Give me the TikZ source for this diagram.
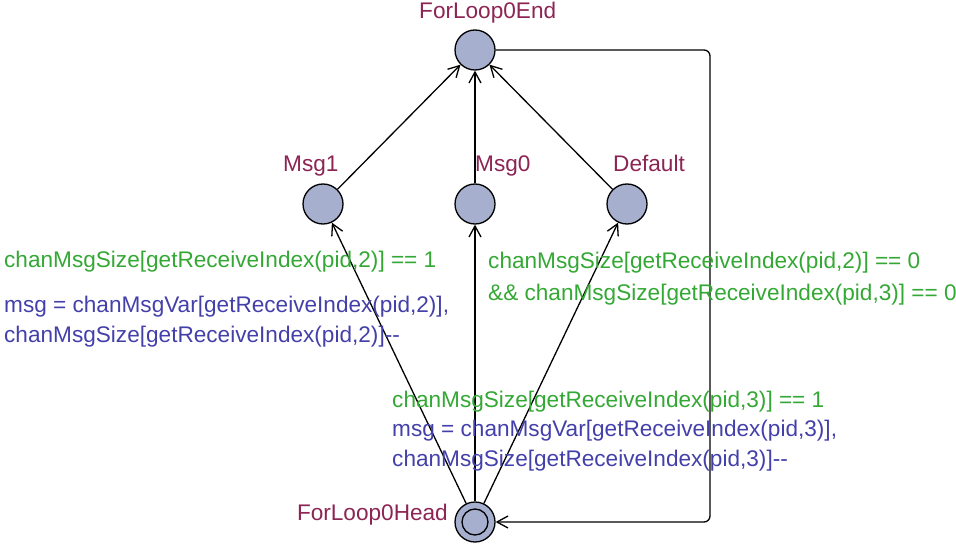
\documentclass[tikz,border=0pt]{standalone}
\usepackage{fontspec}
\setmainfont{Liberation Sans}
\usetikzlibrary{arrows.meta}

\definecolor{locfill}{RGB}{166,176,206}
\definecolor{locname}{RGB}{140,36,84}
\definecolor{guardcol}{RGB}{52,168,52}
\definecolor{updatecol}{RGB}{68,64,170}

\tikzset{
  location/.style={circle, draw, line width=1.3pt, fill=locfill, minimum size=40pt, inner sep=0pt},
  locname/.style={text=locname, inner sep=0pt, font=\fontsize{22.6}{26}\selectfont},
  guard/.style={text=guardcol, inner sep=0pt, anchor=base west, font=\fontsize{22.6}{26}\selectfont},
  update/.style={text=updatecol, inner sep=0pt, anchor=base west, font=\fontsize{22.6}{26}\selectfont},
  edge/.style={line width=1.3pt, -{Straight Barb[length=11pt,width=12pt,line width=1.3pt]}}
}

\begin{document}
\begin{tikzpicture}[x=1pt, y=-1pt]
  \useasboundingbox (0,0) rectangle (956,548);

  % Locations
  \node[location] (end)  at (475,50)  {};
  \node[location] (msg1) at (323,204) {};
  \node[location] (msg0) at (475,204) {};
  \node[location] (dflt) at (627,204) {};
  \node[location] (head) at (475,522) {};
  \draw[line width=1.3pt] (head.center) circle (13pt);

  % Location names
  \node[locname, anchor=base west] (endname)  at (419,19)  {ForLoop0End};
  \node[locname, anchor=base west] (msg1name) at (283,172) {Msg1};
  \node[locname, anchor=base west] (msg0name) at (475,172) {Msg0};
  \node[locname, anchor=base west] (dfltname) at (613,172) {Default};
  \node[locname, anchor=base east] (headname) at (448,520) {ForLoop0Head};

  % Corner points of the loop back
  \coordinate (c1) at (710,50);
  \coordinate (c2) at (710,522);

  % Edges
  \draw[edge] (head) -- (msg1);
  \draw[edge] (head) -- (msg0);
  \draw[edge] (head) -- (dflt);
  \draw[edge] (msg1) -- (end);
  \draw[edge] (msg0) -- (end);
  \draw[edge] (dflt) -- (end);
  \draw[edge, rounded corners=6pt] (end) -- (c1) -- (c2) -- (head);

  % Guards and updates
  \node[guard] (g1) at (4,268) {chanMsgSize[getReceiveIndex(pid,2)] == 1};
  \node[update] (u1a) at (4,312) {msg = chanMsgVar[getReceiveIndex(pid,2)],};
  \node[update] (u1b) at (4,342) {chanMsgSize[getReceiveIndex(pid,2)]-{}-};

  \node[guard] (gda) at (488,269) {chanMsgSize[getReceiveIndex(pid,2)] == 0};
  \node[guard] (gdb) at (488,300) {\&\& chanMsgSize[getReceiveIndex(pid,3)] == 0};

  \node[guard] (g0) at (392,407) {chanMsgSize[getReceiveIndex(pid,3)] == 1};
  \node[update] (u0a) at (392,436) {msg = chanMsgVar[getReceiveIndex(pid,3)],};
  \node[update] (u0b) at (392,466) {chanMsgSize[getReceiveIndex(pid,3)]-{}-};
\end{tikzpicture}
\end{document}
